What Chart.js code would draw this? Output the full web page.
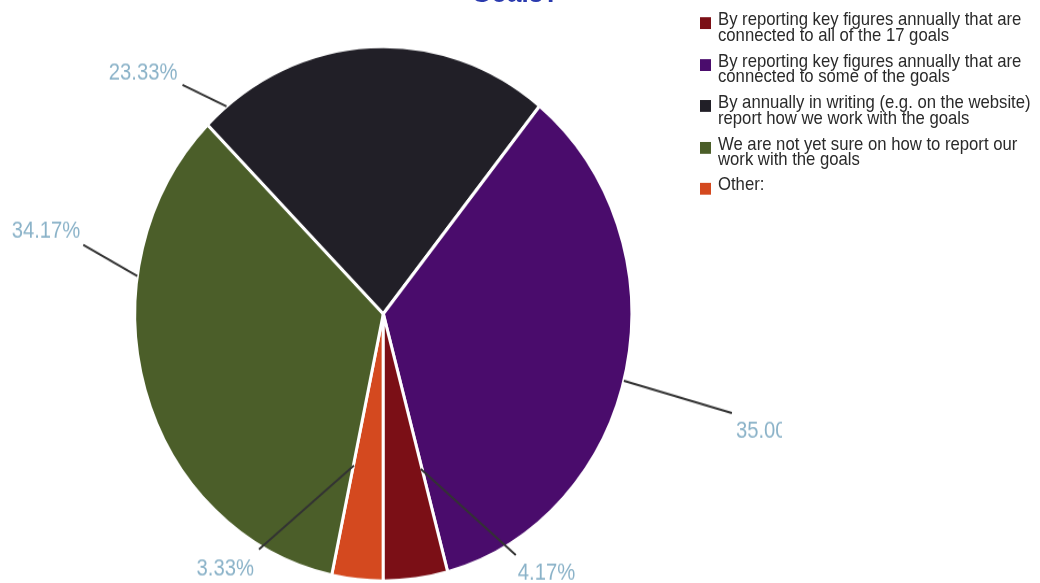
<!DOCTYPE html>
<html>
<head>
<meta charset="utf-8">
<title>Reporting on the goals</title>
<style>
  html, body { margin: 0; padding: 0; background: #fff; overflow: hidden; }
  /* the whole figure is drawn slightly taller than wide */
  #stage { position: absolute; left: 0; top: 0; width: 1040px; height: 542px;
           transform: scaleY(1.0756); transform-origin: 0 0; }
  #pie { position: absolute; left: 0; top: 0; }
  #title { position: absolute; left: 471px; top: -20.3px; white-space: nowrap;
           font: bold 26px/26px "Liberation Sans", Arial, sans-serif; color: #2a3aae; }
  #legend { position: absolute; left: 700px; top: 11.3px; width: 344px;
            font: 16.7px/14.4px "Liberation Sans", Arial, sans-serif; color: #2a2a2a; }
  #legend .item { position: relative; padding-left: 18px; margin-bottom: 9.6px; }
  #legend .box { position: absolute; left: 0; top: 5px; width: 11px; height: 11px; }
</style>
</head>
<body>
<div id="stage">
  <canvas id="pie" width="782" height="542"></canvas>
  <div id="title">Goals?</div>
  <div id="legend"></div>
</div>
<script src="https://cdn.jsdelivr.net/npm/chart.js"></script>
<script>
const categories = [
  'By reporting key figures annually that are connected to all of the 17 goals',
  'By reporting key figures annually that are connected to some of the goals',
  'By annually in writing (e.g. on the website) report how we work with the goals',
  'We are not yet sure on how to report our work with the goals',
  'Other:'
];
const shares = [4.17, 35.00, 23.33, 34.17, 3.33];
const sliceColors = ['#7b0f16', '#4a0c6c', '#211f27', '#4b5e29', '#d4491f'];

// where each callout leaves its slice (fraction along the arc, fraction of radius),
// where the leader ends (dx, dy) and where the text sits relative to that end
const callouts = [
  { t: 0.03, r: 0.60, dx: 95,  dy: 80,  align: 'left',  tx: 2,  ty: 23 },
  { t: 0.52, r: 1.00, dx: 108, dy: 30,  align: 'left',  tx: 4,  ty: 23 },
  { t: 0.07, r: 1.00, dx: -44, dy: -20, align: 'right', tx: -5, ty: -5 },
  { t: 0.70, r: 1.00, dx: -54, dy: -29, align: 'right', tx: -3, ty: -7 },
  { t: 0.98, r: 0.58, dx: -95, dy: 78,  align: 'right', tx: -5, ty: 24 }
];

// slices run counter-clockwise from the bottom, so feed them to the pie reversed
const labels = categories.slice().reverse();
const values = shares.slice().reverse();
const colors = sliceColors.slice().reverse();

const calloutPlugin = {
  id: 'callouts',
  afterDatasetsDraw(chart) {
    const ctx = chart.ctx;
    const arcs = chart.getDatasetMeta(0).data;
    ctx.save();
    arcs.forEach((arc, i) => {
      const k = arcs.length - 1 - i;
      const c = callouts[k];
      const p = arc.getProps(['x', 'y', 'startAngle', 'endAngle', 'outerRadius'], true);
      const a = p.startAngle + c.t * (p.endAngle - p.startAngle);
      const x0 = p.x + Math.cos(a) * p.outerRadius * c.r;
      const y0 = p.y + Math.sin(a) * p.outerRadius * c.r;
      const x1 = x0 + c.dx, y1 = y0 + c.dy;
      ctx.strokeStyle = '#333333';
      ctx.lineWidth = 2;
      ctx.beginPath();
      ctx.moveTo(x0, y0);
      ctx.lineTo(x1, y1);
      ctx.stroke();
      // slightly narrowed percentage text
      ctx.save();
      ctx.translate(x1 + c.tx, y1 + c.ty);
      ctx.scale(0.92, 1);
      ctx.fillStyle = '#8ab2c8';
      ctx.font = '22px "Liberation Sans", Arial, sans-serif';
      ctx.textAlign = c.align;
      ctx.textBaseline = 'alphabetic';
      ctx.fillText(shares[k].toFixed(2) + '%', 0, 0);
      ctx.restore();
    });
    ctx.restore();
  }
};

const chart = new Chart(document.getElementById('pie'), {
  type: 'pie',
  data: {
    labels: labels,
    datasets: [{
      data: values,
      backgroundColor: colors,
      borderColor: '#ffffff',
      borderWidth: 3
    }]
  },
  options: {
    responsive: false,
    animation: false,
    rotation: 180,
    layout: { padding: { top: 41.7, bottom: 0.3, left: 0, right: 15.4 } },
    plugins: {
      legend: { display: false },
      tooltip: { enabled: false }
    }
  },
  plugins: [calloutPlugin]
});

// legend listed in the original category order
const items = chart.options.plugins.legend.labels.generateLabels(chart).reverse();
const legendEl = document.getElementById('legend');
items.forEach(item => {
  const row = document.createElement('div');
  row.className = 'item';
  const box = document.createElement('span');
  box.className = 'box';
  box.style.background = item.fillStyle;
  row.appendChild(box);
  row.appendChild(document.createTextNode(item.text));
  legendEl.appendChild(row);
});
</script>
</body>
</html>
